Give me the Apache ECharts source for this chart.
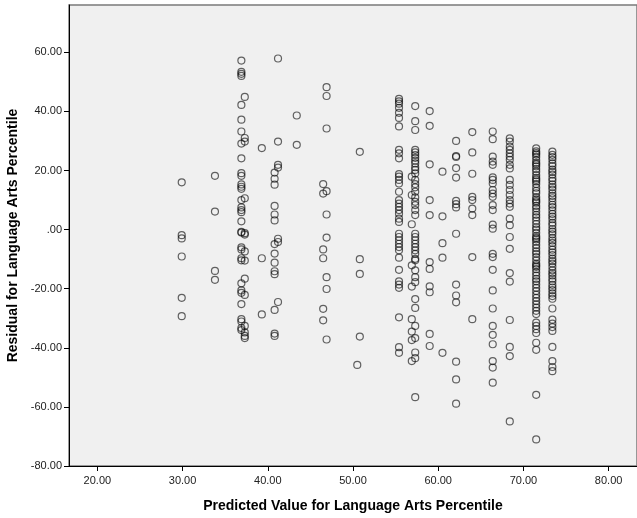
<!DOCTYPE html>
<html>
<head>
<meta charset="utf-8">
<script src="https://cdn.jsdelivr.net/npm/echarts@6/dist/echarts.min.js"></script>
<style>
    html, body { margin: 0; padding: 0; background: #fff; }
    #chart { width: 637px; height: 518px; }
</style>
</head>
<body>
<div id="chart"></div>
<script>
// predicted value of each vertical column of points
const predicted = [29.9, 33.8, 36.9, 37.3, 39.3, 40.8, 41.2, 43.4, 46.5, 46.9, 50.8, 50.5,
    55.4, 57.3, 56.9, 59.0, 60.5, 62.1, 64.0, 66.4, 68.4, 71.5, 73.4];

// residuals, in the same order as predicted
const col30 = [16.0, -1.9, -3.0, -9.1, -23.1, -29.3];
const col34 = [18.2, 6.1, -14.0, -17.0];
const col37a = [57.2, 53.4, 52.7, 52.0, 42.2, 37.2, 33.2, 29.1, 24.1, 19.1, 18.2, 15.3, 14.5, 13.8,
    10.0, 7.5, 6.6, 5.9, 2.8, -0.8, -1.0, -6.0, -6.7, -9.7, -10.4, -18.2, -20.6, -21.4, -25.2,
    -30.3, -31.1, -33.3, -34.0];
const col37b = [44.9, 31.0, 29.8, 10.6, -1.2, -1.7, -7.4, -10.5, -16.6, -22.1, -32.6, -34.8, -36.0, -36.7];
const col39 = [27.6, -9.7, -28.7];
const col41a = [19.3, 17.2, 15.2, 8.0, 5.1, 3.1, -4.9, -8.1, -11.2, -14.1, -15.1, -27.2, -35.2, -36.0];
const col41b = [57.9, 29.8, 21.9, 21.0, -3.1, -4.2, -24.5];
const col43 = [38.6, 28.7];
const col46a = [15.4, 12.2, -6.7, -9.7, -26.8, -30.7];
const col46b = [48.2, 45.2, 34.2, 13.0, 5.1, -2.7, -16.1, -20.1, -37.2];
const col51a = [26.3, -10.0, -15.0, -36.2];
const col51b = [-45.8];
const col55 = [44.2, 43.4, 42.6, 41.2, 39.5, 37.8, 34.9, 27.0, 25.8, 24.1, 18.8, 17.9, 16.8, 15.6,
    12.8, 10.0, 8.8, 7.7, 6.6, 5.4, 3.7, 2.6, -1.4, -2.5, -3.6, -4.8, -5.9, -7.0, -9.5, -13.6,
    -17.5, -18.6, -19.7, -29.7, -39.8, -41.7];
const col57a = [41.8, 36.7, 33.7, 27.0, 26.1, 25.2, 24.3, 23.3, 22.4, 21.1, 20.2, 19.0, 16.8,
    15.4, 14.3, 12.8, 10.9, 9.4, 8.3, 6.6, 4.9, -1.4, -2.5, -3.6, -4.8, -5.9, -7.0, -8.2, -9.9,
    -10.4, -13.8, -16.1, -17.8, -23.5, -26.5, -32.6, -36.7, -41.6, -43.5, -56.7];
const col57b = [17.9, 11.7, 1.8, -12.1, -19.3, -30.3, -34.5, -37.4, -44.5];
const col59 = [40.1, 35.1, 22.1, 10.0, 4.9, -11.0, -13.3, -19.2, -21.2, -35.3, -39.4];
const col60 = [19.6, 4.5, -4.6, -9.5, -41.7];
const col62 = [30.0, 24.9, 24.6, 20.8, 17.6, 9.7, 8.6, 7.5, -1.4, -18.6, -22.3, -24.6, -44.7, -50.7, -58.9];
const col64 = [33.0, 26.1, 18.9, 11.1, 10.0, 7.1, 4.9, -9.3, -30.3];
const col66 = [33.2, 30.6, 24.7, 23.0, 21.9, 17.7, 16.8, 15.6, 13.4, 12.2, 11.1, 8.3, 6.6, 1.7, 0.3,
    -8.2, -9.3, -13.6, -20.6, -26.7, -32.6, -35.6, -38.8, -44.5, -46.7, -51.8];
const col68 = [30.9, 29.8, 28.1, 27.0, 25.8, 24.7, 23.6, 21.9, 20.7, 16.8, 15.1, 13.4, 11.7, 10.0,
    8.8, 7.7, 3.7, 1.5, -2.5, -6.5, -14.7, -17.6, -30.6, -39.7, -42.8, -64.9];
const col71 = [27.5, 26.5, 25.9, 25.4, 24.6, 23.5, 22.6, 22.1, 21.4, 20.5, 19.6, 18.4, 17.5, 16.9,
    16.3, 15.4, 14.2, 13.1, 12.3, 11.0, 10.2, 9.6, 9.1, 8.0, 7.2, 6.1, 5.0, 4.1, 3.0, 1.9, 0.8,
    0.0, -1.1, -2.2, -2.8, -3.3, -4.1, -5.2, -6.3, -7.4, -8.2, -9.3, -10.4, -11.5, -12.1, -12.6,
    -13.4, -14.5, -15.6, -16.7, -17.5, -18.6, -19.7, -20.8, -22.0, -23.1, -24.2, -25.3, -26.4,
    -27.5, -28.6, -31.5, -32.6, -33.7, -35.0, -38.3, -40.7, -55.9, -71.0];
const col73 = [26.4, 25.3, 24.5, 23.6, 22.4, 21.5, 20.3, 19.5, 18.6, 17.4, 16.5, 15.3, 14.4, 13.5,
    12.3, 11.4, 10.6, 9.5, 8.4, 7.6, 6.5, 5.3, 4.4, 3.5, 2.3, 1.4, 0.2, -0.7, -1.6, -2.8, -3.7,
    -4.5, -5.6, -6.8, -7.7, -8.6, -9.8, -10.7, -11.5, -12.6, -13.8, -14.7, -15.5, -16.6, -17.5,
    -18.7, -19.6, -20.5, -21.6, -22.5, -23.4, -26.7, -30.5, -31.8, -33.0, -34.3, -39.7, -44.5,
    -46.5, -47.9];

const residuals = [col30, col34, col37a, col37b, col39, col41a, col41b, col43, col46a, col46b,
    col51a, col51b, col55, col57a, col57b, col59, col60, col62, col64, col66, col68, col71, col73];

const xTicks = [20, 30, 40, 50, 60, 70, 80];
const yTicks = [-80, -60, -40, -20, 0, 20, 40, 60];

const points = [];
predicted.forEach((x, i) => residuals[i].forEach(y => points.push([x, y])));

const font = 'Liberation Sans, Arial, sans-serif';
const fmt = v => (v === 0 ? '.00' : v.toFixed(2));

const chart = echarts.init(document.getElementById('chart'));
chart.setOption({
    animation: false,
    backgroundColor: '#ffffff',
    grid: {
        left: 69,
        top: 5,
        right: 0,
        bottom: 52,
        outerBoundsMode: 'none',
        containLabel: false,
        show: true,
        backgroundColor: '#f0f0f0',
        borderColor: '#7a7a7a',
        borderWidth: 1.5
    },
    xAxis: {
        type: 'value',
        min: 16.67,
        max: 83.33,
        name: 'Predicted Value for Language Arts Percentile',
        nameLocation: 'middle',
        nameGap: 33,
        nameTextStyle: { fontFamily: font, fontSize: 14, fontWeight: 'bold', color: '#000' },
        axisLine: { onZero: false, lineStyle: { color: '#000', width: 1 } },
        axisTick: { show: true, length: 5, lineStyle: { color: '#000' }, customValues: xTicks },
        axisLabel: { fontFamily: font, fontSize: 11, color: '#222', margin: 9, formatter: fmt, customValues: xTicks },
        splitLine: { show: false }
    },
    yAxis: {
        type: 'value',
        min: -80,
        max: 76,
        name: 'Residual for Language Arts Percentile',
        nameLocation: 'middle',
        nameRotate: 90,
        nameGap: 49,
        nameTextStyle: { fontFamily: font, fontSize: 14, fontWeight: 'bold', color: '#000' },
        axisLine: { onZero: false, lineStyle: { color: '#000', width: 1 } },
        axisTick: { show: true, length: 5, lineStyle: { color: '#000' }, customValues: yTicks },
        axisLabel: { fontFamily: font, fontSize: 11, color: '#222', margin: 7, formatter: fmt, customValues: yTicks },
        splitLine: { show: false }
    },
    series: [{
        type: 'scatter',
        data: points,
        symbol: 'circle',
        symbolSize: 7,
        itemStyle: {
            color: 'rgba(0,0,0,0)',
            borderColor: 'rgba(10,10,10,0.78)',
            borderWidth: 1.2
        },
        emphasis: { disabled: true }
    }]
});
</script>
</body>
</html>
